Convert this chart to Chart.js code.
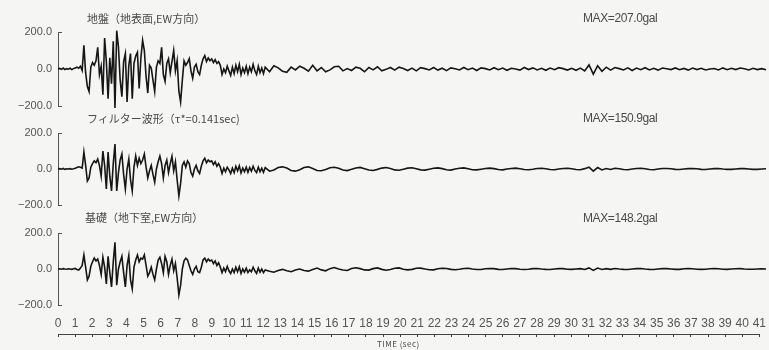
<!DOCTYPE html>
<html>
<head>
<meta charset="utf-8">
<script src="https://cdn.jsdelivr.net/npm/chart.js@4"></script>
<style>
body { margin: 0; background: #f5f5f3; }
#wrap { position: relative; width: 769px; height: 350px; overflow: hidden; font-family: "Noto Sans CJK JP", "Noto Sans", sans-serif; color: #4a4a4a; }
#wrap canvas { position: absolute; left: 0; top: 0; }
.lbl { position: absolute; font-size: 11px; line-height: 1; white-space: nowrap; }
.max { letter-spacing: -0.4px; font-family: "Liberation Sans Narrow", "Liberation Sans", sans-serif; font-size: 12px; }
.time { font-size: 8px; letter-spacing: 0.5px; }
</style>
</head>
<body>
<div id="wrap">
  <canvas id="p1" width="769" height="350"></canvas>
  <canvas id="p2" width="769" height="350"></canvas>
  <canvas id="p3" width="769" height="350"></canvas>
  <canvas id="axis" width="769" height="350"></canvas>
  <div class="lbl" style="left:87px;top:13px">地盤（地表面,EW方向）</div>
  <div class="lbl max" style="left:583px;top:12px">MAX=207.0gal</div>
  <div class="lbl" style="left:87px;top:113px">フィルター波形（τ*=0.141sec)</div>
  <div class="lbl max" style="left:583px;top:112px">MAX=150.9gal</div>
  <div class="lbl" style="left:85px;top:212px">基礎（地下室,EW方向）</div>
  <div class="lbl max" style="left:583px;top:212px">MAX=148.2gal</div>
  <div class="lbl time" style="left:377px;top:340px">TIME (sec)</div>
</div>
<script>
// sampling: 0.1 s up to 12 s, then 0.25 s up to 41 s
const sampleStep = 0.1;
const tailStep = 0.25;
const headEnd = 12;

const timeTicks = [0, 1, 2, 3, 4, 5, 6, 7, 8, 9, 10, 11, 12, 13, 14, 15, 16, 17, 18, 19, 20,
  21, 22, 23, 24, 25, 26, 27, 28, 29, 30, 31, 32, 33, 34, 35, 36, 37, 38, 39, 40, 41];
const accTicks = [-200, 0, 200];

// 地盤 (ground surface, EW), gal
const groundHead = [
  0, 3, -2, 5, -3, 2, -1, 4, -3, 2,
  6, 10, 4, 15, -8, 128, -20, -95, -122, 10,
  35, 20, 44, 117, -30, 15, -139, 167, 40, -160,
  60, -80, 150, -211, 207, 120, -60, -150, 40, 83,
  -178, 20, 83, -160, 30, 70, 90, -105, 60, 155,
  100, -40, -130, 20, 5, -60, -122, 10, 44, 30,
  117, -30, -67, 30, 55, -20, 40, 100, -10, 45,
  -120, -178, -60, 44, 20, 35, 56, -10, -50, 10,
  25, -15, -30, 20, 55, 72, 40, 60, 45, 55,
  35, 50, 30, 40, 20, -30, 0, -20, 15, -10,
  -35, 10, -25, 20, -15, 25, -30, 5, -20, 15,
  -25, 10, -15, 25, -10, -30, 15, -20, 5, -25,
  10
];
const groundTail = [
  -15, 18, 6, -12,  -18, 10, -5, 15,  4, -12, 20, -10,  8, -15, -5, 12,
  15, -10, 2, -8,  10, 4, -15, 8,  -5, 12, -10, -2,  8, -6, 10, 3,
  -8, 5, -10, 7,  2, -5, 8, -6,  4, -9, 6, 1,  -5, 8, -4, 5,
  -8, 6, 2, -5,  7, -4, 5, -7,  4, 0, -6, 8,  -3, 6, -5, 4,
  -7, 5, -4, 7,  2, -6, 4, -7,  5, -10, 22, -28,  18, -12, 10, -6,
  8, 2, -5, 6,  -8, 5, -4, 7,  -5, 4, -6, 5,  1, -3, 6, -4,
  3, -6, 5, -3,  4, -5, 0, 3,  -5, 6, -4, 4,  -3, 5, 1, -5,
  4, -3, 2, -4
];

// フィルター波形
const filterHead = [
  0, 2, -1, 3, -2, 1, 0, 2, -1, 1,
  4, 8, 12, 10, 5, 94, 20, -67, -50, 10,
  30, 45, 35, 55, 20, -40, 100, 20, -111, 94,
  -40, -122, 30, 139, -122, -20, 50, 83, -30, -111,
  0, 55, -60, -122, 10, 72, 20, 60, 30, 50,
  83, 10, -50, -10, 20, -30, -73, 0, 40, 72,
  30, -50, 20, 50, -20, 30, 70, -10, 40, -60,
  -150, -80, 20, 40, 10, 45, 30, -20, -40, 0,
  20, -10, -25, 15, 45, 60, 35, 50, 40, 45,
  25, 40, 15, 30, 10, -25, 5, -15, 10, -5,
  -25, 5, -20, 15, -10, 18, -22, 5, -15, 10,
  -18, 8, -12, 15, -8, -20, 10, -15, 5, -18,
  8
];
const filterTail = [
  -12, -5, 8, 12,  5, -8, -12, -4,  8, 12, 3, -8,  -10, -3, 7, 10,
  4, -6, -9, -2,  6, 9, 2, -6,  -8, -2, 5, 8,  3, -5, -7, -1,
  5, 7, 1, -5,  -6, -1, 4, 6,  2, -4, -6, 0,  4, 6, 1, -4,
  -5, -1, 3, 5,  2, -3, -5, 0,  3, 5, 1, -3,  -4, -1, 3, 4,
  1, -3, -4, 0,  3, 4, 1, -3,  -4, 2, 10, -12,  8, -5, 3, -3,
  4, 1, -3, -4,  0, 3, 4, 1,  -3, -4, 0, 3,  3, 1, -2, -3,
  0, 2, 3, 1,  -2, -3, 0, 2,  3, 0, -2, -2,  0, 2, 2, 0,
  -2, -2, 0, 1
];

// 基礎 (basement, EW)
const baseHead = [
  0, 1, -1, 2, 0, -1, 1, 0, -2, 1,
  3, -3, -6, 5, 20, 78, 10, -61, -40, 15,
  40, 61, 45, 55, 20, -30, 65, 10, -83, 70,
  -20, -100, 40, 148, -90, 0, 40, 70, -20, -100,
  20, 75, -60, -110, 10, 50, 78, 40, 60, 55,
  78, 20, -40, -20, 10, -30, -60, 0, 50, 65,
  30, -20, 70, 40, -30, 20, 55, -10, 30, -50,
  -144, -90, 0, 45, 60, 50, 20, -10, -30, 0,
  15, -15, -20, 10, 50, 60, 40, 55, 45, 50,
  30, 45, 20, 35, 10, -20, 5, -15, 15, -10,
  -25, 0, -20, 10, -15, 12, -25, 0, -18, 5,
  -20, -5, -15, 10, -10, -25, 5, -18, 0, -20,
  -5
];
const baseTail = [
  -12, -18, -8, -2,  -10, -15, -5, 0,  -8, -12, -3, 5,  -5, -10, 2, 8,
  0, -6, -8, 3,  7, 2, -5, -6,  2, 6, -2, -7,  -3, 4, 6, -1,
  -5, -2, 4, 5,  0, -4, -5, 1,  4, 3, -2, -4,  -1, 3, 4, 0,
  -3, -3, 1, 3,  2, -2, -3, 0,  3, 2, -1, -3,  -1, 2, 3, 0,
  -2, -3, 0, 2,  2, -1, -2, 0,  2, -3, 6, -8,  5, -3, 2, -2,
  3, 0, -2, -3,  0, 2, 3, 0,  -2, -3, 0, 2,  2, 0, -2, -2,
  1, 2, 1, -1,  -2, -1, 1, 2,  1, -1, -2, 0,  1, 2, 0, -1,
  -1, 0, 1, 0
];

function toPoints(head, tail) {
  const pts = head.map((v, i) => ({ x: +(i * sampleStep).toFixed(2), y: v }));
  tail.forEach((v, i) => pts.push({ x: headEnd + (i + 1) * tailStep, y: v }));
  return pts;
}

// small inward ticks at the ends of each y axis
const bracketTicks = {
  id: 'bracketTicks',
  afterDraw(chart) {
    const { ctx, chartArea, scales } = chart;
    ctx.save();
    ctx.strokeStyle = '#555';
    ctx.lineWidth = 1;
    [accTicks[0], accTicks[accTicks.length - 1]].forEach(v => {
      const py = Math.round(scales.y.getPixelForValue(v)) + 0.5;
      ctx.beginPath();
      ctx.moveTo(chartArea.left, py);
      ctx.lineTo(chartArea.left + 4, py);
      ctx.stroke();
    });
    ctx.restore();
  }
};

function panel(id, points, top, bottom) {
  return new Chart(document.getElementById(id), {
    type: 'line',
    data: {
      datasets: [{
        data: points,
        borderColor: '#161616',
        borderWidth: 1.6,
        pointRadius: 0,
        tension: 0,
        clip: false
      }]
    },
    options: {
      responsive: false,
      animation: false,
      layout: { padding: { top: top, bottom: 350 - bottom, left: 0, right: 3 } },
      plugins: { legend: { display: false }, tooltip: { enabled: false } },
      scales: {
        x: { type: 'linear', min: 0, max: 41, display: false },
        y: {
          min: -200, max: 200,
          afterBuildTicks: s => { s.ticks = accTicks.map(v => ({ value: v })); },
          afterFit: s => { s.width = 58; },
          grid: { drawOnChartArea: false, drawTicks: false },
          border: { color: '#555', width: 1 },
          ticks: {
            padding: 6,
            color: '#555',
            font: { family: '"Liberation Sans Narrow", "Liberation Sans", sans-serif', size: 11 },
            callback: v => (v < 0 ? '−' : '') + Math.abs(v).toFixed(1)
          }
        }
      }
    },
    plugins: [bracketTicks]
  });
}

panel('p1', toPoints(groundHead, groundTail), 32, 106);
panel('p2', toPoints(filterHead, filterTail), 133, 205);
panel('p3', toPoints(baseHead, baseTail), 233, 305);

// shared time axis, labels sit above the axis line
new Chart(document.getElementById('axis'), {
  type: 'line',
  data: { datasets: [] },
  options: {
    responsive: false,
    animation: false,
    layout: { padding: { top: 300, bottom: 7, left: 58, right: 3 } },
    plugins: { legend: { display: false }, tooltip: { enabled: false } },
    scales: {
      x: {
        type: 'linear', position: 'bottom', min: 0, max: 41,
        afterBuildTicks: s => { s.ticks = timeTicks.map(v => ({ value: v })); },
        grid: { drawOnChartArea: false, tickLength: 3, color: '#444' },
        border: { color: '#444', width: 1 },
        ticks: {
          mirror: true, padding: 3, autoSkip: false, maxRotation: 0,
          color: '#555',
          font: { family: '"Liberation Sans Narrow", "Liberation Sans", sans-serif', size: 12 }
        }
      },
      y: { display: false }
    }
  }
});
</script>
</body>
</html>
